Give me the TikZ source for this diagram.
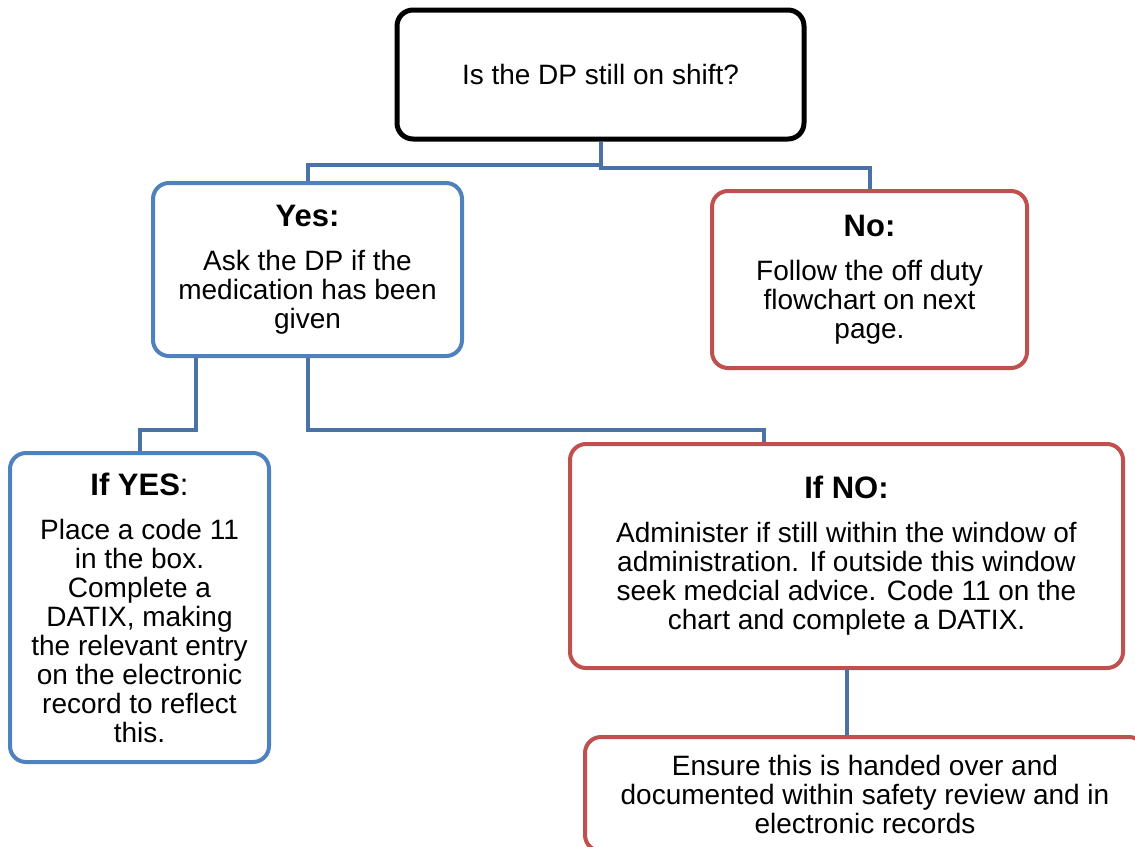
\documentclass[tikz,border=0pt]{standalone}
\usepackage{fontspec}
\setmainfont{Liberation Sans}
\usetikzlibrary{calc,positioning}
\definecolor{ShiftBlue}{HTML}{4F81BD}
\definecolor{ShiftRed}{HTML}{C0504D}
\definecolor{ShiftLink}{HTML}{4A72A6}
\newcommand\shifthead[1]{{\fontsize{31}{31}\selectfont #1}\\[15pt]}

\begin{document}
\begin{tikzpicture}[x=1pt,y=-1pt,
    box/.style={draw,rounded corners=16pt,line width=4pt,align=center,
      inner sep=0pt,font=\fontsize{28}{29}\selectfont},
    bluebox/.style={box,draw=ShiftBlue},
    redbox/.style={box,draw=ShiftRed},
    link/.style={ShiftLink,line width=4pt}]
  \useasboundingbox (0,0) rectangle (1135,846);

  \node[box,draw=black,line width=5pt,
    minimum width=407pt,minimum height=129pt]
    (shift) at (600.5,74.5) {Is the DP still on shift?};

  \node[bluebox,minimum width=309pt,minimum height=173pt]
    (yes) at (307.5,269.5)
    {\shifthead{\textbf{Yes:}}Ask the DP if the\\medication has been\\given};
  \node[redbox,minimum width=315pt,minimum height=177pt]
    (no) at (869.5,279.5)
    {\shifthead{\textbf{No:}}Follow the off duty\\flowchart on next\\page.};

  \node[bluebox,minimum width=259pt,minimum height=309pt]
    (ifyes) at (139.5,607.5)
    {\shifthead{\textbf{If YES}:}Place a code 11\\in the box.\\Complete a\\DATIX, making\\the relevant entry\\on the electronic\\record to reflect\\this.};
  \node[redbox,minimum width=553pt,minimum height=224pt]
    (ifno) at (846.5,556)
    {\shifthead{\textbf{If NO:}}Administer if still within the window of\\administration. If outside this window\\seek medcial advice. Code 11 on the\\chart and complete a DATIX.};

  \node[redbox,minimum width=560pt,minimum height=114pt]
    (ensure) at (865,794)
    {Ensure this is handed over and\\documented within safety review and in\\electronic records};

  \draw[link] (shift.south) -- ++(0,23) -| (yes.north);
  \draw[link] (shift.south) -- ++(0,26) -| (no.north);
  \draw[link] ([xshift=-112pt]yes.south) -- ++(0,72) -| (ifyes.north);
  \draw[link] (yes.south) -- ++(0,72) -| ([xshift=-83pt]ifno.north);
  \draw[link] (ifno.south) -- (ifno.south |- ensure.north);
\end{tikzpicture}
\end{document}
